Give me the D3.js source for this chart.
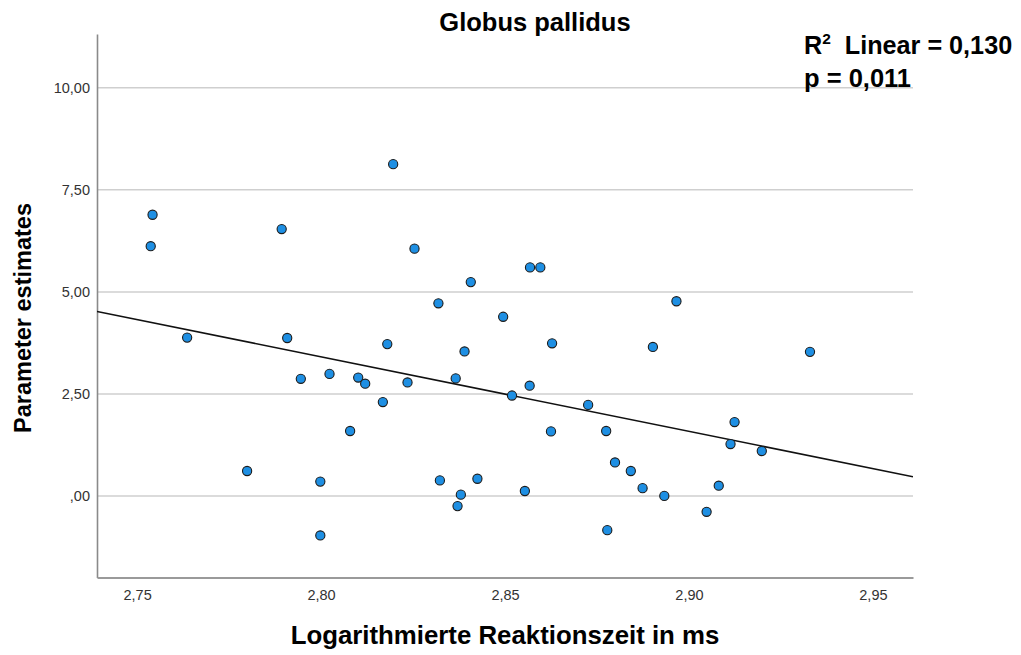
<!DOCTYPE html>
<html>
<head>
<meta charset="utf-8">
<script src="https://cdn.jsdelivr.net/npm/d3@7"></script>
<style>
  html, body { margin: 0; padding: 0; background: #fff; }
  svg { display: block; font-family: "Liberation Sans", Arial, sans-serif; }
</style>
</head>
<body>
<svg id="chart" width="1021" height="655"></svg>
<script>
// Data
const reactionTime = [
  2.7542, 2.7537, 2.7636, 2.7799, 2.7893, 2.7908, 2.7945, 2.7998, 2.7998, 2.8023,
  2.8079, 2.8101, 2.8120, 2.8168, 2.8180, 2.8196, 2.8235, 2.8254, 2.8319, 2.8323,
  2.8366, 2.8371, 2.8380, 2.8390, 2.8407, 2.8425, 2.8495, 2.8519, 2.8554, 2.8568,
  2.8567, 2.8596, 2.8625, 2.8628, 2.8726, 2.8775, 2.8778, 2.8799, 2.8842, 2.8874,
  2.8902, 2.8933, 2.8966, 2.9048, 2.9081, 2.9113, 2.9124, 2.9198, 2.9329
];
const parameterEstimates = [
  6.89, 6.12, 3.88, 0.61, 6.54, 3.87, 2.87, 0.35, -0.97, 2.99,
  1.59, 2.90, 2.75, 2.30, 3.72, 8.13, 2.78, 6.06, 4.72, 0.38,
  2.88, -0.25, 0.03, 3.54, 5.24, 0.42, 4.39, 2.46, 0.12, 5.60,
  2.70, 5.60, 1.58, 3.74, 2.23, 1.59, -0.84, 0.82, 0.61, 0.19,
  3.65, 0.00, 4.77, -0.39, 0.25, 1.27, 1.81, 1.10, 3.53
];
const xTicks = [2.75, 2.80, 2.85, 2.90, 2.95];
const yTicks = [0, 2.5, 5, 7.5, 10];
const xDomain = [2.7391, 2.9609];
const yDomain = [-2.0, 11.32];
// fit line end points (x, y)
const fitX = [2.7391, 2.9609];
const fitY = [4.52, 0.47];
const titleText = "Globus pallidus";
const xTitle = "Logarithmierte Reaktionszeit in ms";
const yTitle = "Parameter estimates";
const r2Text = "0,130";
const pText = "0,011";

const svg = d3.select("#chart");
const m = { left: 97, right: 108, top: 34, bottom: 77.5 };
const W = 1021, H = 655;
const x = d3.scaleLinear().domain(xDomain).range([m.left, W - m.right]);
const y = d3.scaleLinear().domain(yDomain).range([H - m.bottom, m.top]);
const fmt = d => d3.format(".2f")(d).replace(".", ",").replace(/^0,/, ",").replace(/^-0,/, "-,");

// gridlines
svg.append("g")
  .selectAll("line").data(yTicks).join("line")
  .attr("x1", x.range()[0]).attr("x2", x.range()[1])
  .attr("y1", d => y(d)).attr("y2", d => y(d))
  .attr("stroke", "#cfcfcf").attr("stroke-width", 1.5);

// y axis
const yAxis = svg.append("g").attr("transform", `translate(${m.left},0)`)
  .call(d3.axisLeft(y).tickValues(yTicks).tickSize(0).tickPadding(7).tickFormat(fmt));
yAxis.select(".domain").attr("stroke", "#8a8a8a").attr("stroke-width", 1.6);
yAxis.selectAll("text").attr("font-size", 14.5).attr("fill", "#333")
  .attr("font-family", "Liberation Sans, Arial, sans-serif");

// x axis
const xAxis = svg.append("g").attr("transform", `translate(0,${H - m.bottom})`)
  .call(d3.axisBottom(x).tickValues(xTicks).tickSize(0).tickPadding(12).tickFormat(fmt));
xAxis.select(".domain").attr("stroke", "#9a9a9a").attr("stroke-width", 2);
xAxis.selectAll("text").attr("font-size", 14.5).attr("fill", "#333")
  .attr("font-family", "Liberation Sans, Arial, sans-serif");

// clip
svg.append("clipPath").attr("id", "plotclip").append("rect")
  .attr("x", m.left).attr("y", m.top)
  .attr("width", W - m.left - m.right).attr("height", H - m.top - m.bottom);

// fit line
svg.append("line").attr("clip-path", "url(#plotclip)")
  .attr("x1", x(fitX[0])).attr("y1", y(fitY[0]))
  .attr("x2", x(fitX[1])).attr("y2", y(fitY[1]))
  .attr("stroke", "#111").attr("stroke-width", 1.6);

// points
const pts = reactionTime.map((d, i) => ({ x: d, y: parameterEstimates[i] }));
svg.append("g").selectAll("circle").data(pts).join("circle")
  .attr("cx", d => x(d.x)).attr("cy", d => y(d.y)).attr("r", 4.6)
  .attr("fill", "#1e8fe3").attr("stroke", "#1b1b1b").attr("stroke-width", 1.1);

// titles
svg.append("text").attr("x", 535).attr("y", 31).attr("text-anchor", "middle")
  .attr("font-size", 25.5).attr("font-weight", "bold").attr("fill", "#000").text(titleText);

svg.append("text").attr("x", 505).attr("y", 644).attr("text-anchor", "middle")
  .attr("font-size", 25.8).attr("font-weight", "bold").attr("fill", "#000").text(xTitle);

svg.append("text").attr("transform", "translate(31,318) rotate(-90)").attr("text-anchor", "middle")
  .attr("font-size", 23.5).attr("font-weight", "bold").attr("fill", "#000").text(yTitle);

// annotation
const ann = svg.append("text").attr("x", 804).attr("y", 54)
  .attr("font-size", 25.2).attr("font-weight", "bold").attr("fill", "#000");
ann.append("tspan").text("R");
ann.append("tspan").attr("font-size", 15.5).attr("dy", -10).text("2");
ann.append("tspan").attr("dy", 10).text("\u00a0 Linear = " + r2Text);

svg.append("text").attr("x", 804).attr("y", 87)
  .attr("font-size", 25.5).attr("font-weight", "bold").attr("fill", "#000").text("p = " + pText);
</script>
</body>
</html>
